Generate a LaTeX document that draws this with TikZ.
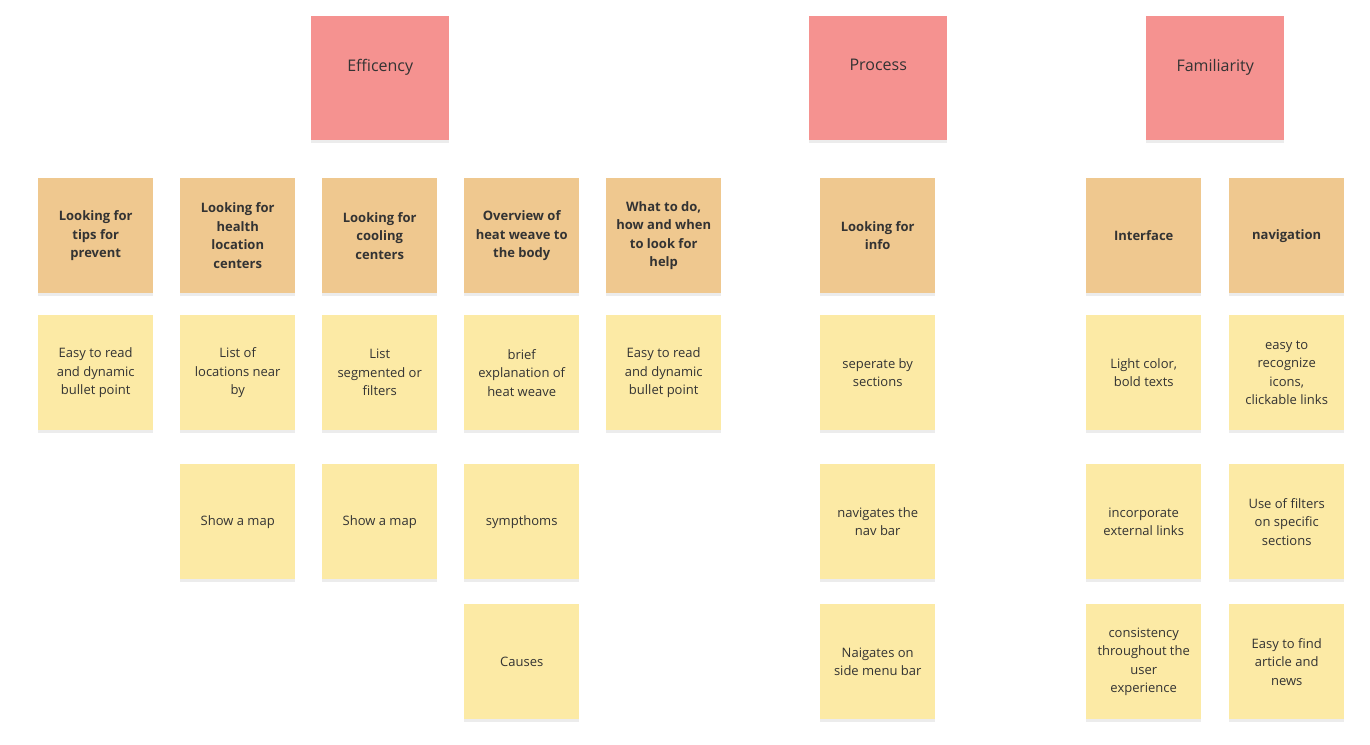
\documentclass[tikz,border=0pt]{standalone}
\usepackage{fontspec}
\setmainfont{Open Sans}
\usetikzlibrary{positioning,shadows}
\definecolor{headred}{HTML}{F59290}
\definecolor{taskorange}{HTML}{EFC88F}
\definecolor{noteyellow}{HTML}{FCEAA5}
\tikzset{
  note/.style={
    rectangle,
    anchor=north west,
    minimum width=115pt,
    minimum height=115pt,
    align=center,
    font=\fontsize{13}{18.5}\selectfont,
    text=black!80,
    drop shadow={shadow xshift=0pt,shadow yshift=-3pt,opacity=.15}
  },
  head/.style={note,fill=headred,minimum width=138pt,minimum height=124pt,
    font=\fontsize{16}{20}\selectfont},
  task/.style={note,fill=taskorange,font=\fontsize{13}{18.5}\selectfont\bfseries},
  idea/.style={note,fill=noteyellow}
}
\begin{document}
\begin{tikzpicture}[x=1pt,y=1pt]
\useasboundingbox[fill=white] (0,0) rectangle (1370,-744);

% headers
\node[head] (eff) at (311,-16) {Efficency\\[6pt]};
\node[head] (proc) at (809,-16) {Process\\[6pt]};
\node[head] (fam) at (1146,-16) {Familiarity\\[6pt]};

% tasks
\node[task] (t1) at (38,-178) {Looking for\\tips for\\prevent};
\node[task] (t2) at (180,-178) {Looking for\\health\\location\\centers};
\node[task] (t3) at (322,-178) {Looking for\\cooling\\centers};
\node[task] (t4) at (464,-178) {Overview of\\heat weave to\\the body};
\node[task] (t5) at (606,-178) {What to do,\\how and when\\to look for\\help};
\node[task] (t6) at (820,-178) {Looking for\\info};
\node[task] (t7) at (1086,-178) {Interface};
\node[task] (t8) at (1229,-178) {navigation};

% first row of notes
\node[idea] (n11) at (38,-315) {Easy to read\\and dynamic\\bullet point};
\node[idea] (n21) at (180,-315) {List of\\locations near\\by};
\node[idea] (n31) at (322,-315) {List\\segmented or\\filters};
\node[idea] (n41) at (464,-315) {brief\\explanation of\\heat weave};
\node[idea] (n51) at (606,-315) {Easy to read\\and dynamic\\bullet point};
\node[idea] (n61) at (820,-315) {seperate by\\sections};
\node[idea] (n71) at (1086,-315) {Light color,\\bold texts};
\node[idea] (n81) at (1229,-315) {easy to\\recognize\\icons,\\clickable links};

% second row
\node[idea] (n22) at (180,-464) {Show a map};
\node[idea] (n32) at (322,-464) {Show a map};
\node[idea] (n42) at (464,-464) {sympthoms};
\node[idea] (n62) at (820,-464) {navigates the\\nav bar};
\node[idea] (n72) at (1086,-464) {incorporate\\external links};
\node[idea] (n82) at (1229,-464) {Use of filters\\on specific\\sections};

% third row
\node[idea] (n43) at (464,-604) {Causes};
\node[idea] (n63) at (820,-604) {Naigates on\\side menu bar};
\node[idea] (n73) at (1086,-604) {consistency\\throughout the\\user\\experience};
\node[idea] (n83) at (1229,-604) {Easy to find\\article and\\news};
\end{tikzpicture}
\end{document}
